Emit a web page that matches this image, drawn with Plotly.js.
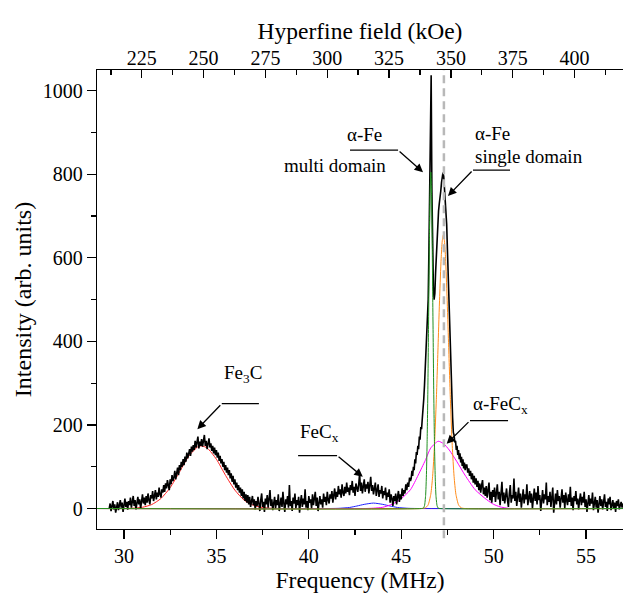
<!DOCTYPE html>
<html><head><meta charset="utf-8">
<script src="https://cdn.plot.ly/plotly-3.0.1.min.js"></script>
<style>html,body{margin:0;padding:0;background:#fff;overflow:hidden}#chart{width:623px;height:595px}</style>
</head><body><div id="chart"></div>
<script>
// ---- measured spectrum (Intensity, arb. units), three uniformly sampled segments ----
const segA_start = 29.2, segA_step = 0.05;
const segA = [
 0, 12, -6, 8, 18, -2, 10, -10, 6, 15,
 -4, 9, 20, 2, 14, -8, 11, 24, 4, 16,
 -3, 18, 8, 26, 2, 14, 30, 6, 20, -2,
 15, 28, 10, 22, 0, 18, 34, 12, 26, 8,
 30, 14, 36, 20, 10, 32, 24, 42, 18, 30,
 44, 22, 38, 28, 50, 34, 26, 46, 38, 56,
 40, 60, 48, 68, 52, 44, 70, 58, 80, 66,
 74, 90, 70, 86, 98, 80, 104, 92, 112, 100,
 118, 104, 124, 112, 134, 120, 128, 142, 126, 148,
 136, 152, 140, 162, 146, 156, 172, 144, 160, 150,
 166, 148, 158, 176, 150, 162, 142, 158, 168, 146,
 156, 138, 150, 132, 146, 128, 140, 122, 134, 114,
 126, 108, 118, 100, 112, 92, 104, 86, 98, 80,
 92, 72, 84, 64, 78, 58, 70, 50, 62, 44,
 56, 38, 50, 30, 46, 24, 40, 18, 34, 14,
 32, 10, 28, 4, 24, 30, 8, 22, -2, 18,
 6, 28, 12, -6, 20, 36, 4, 16, -8, 24,
 10, 32, 2, 18, 44, 6, 22, -4, 14, 28,
 0, 20, 8, 34, -6, 16, 26, 4, 40, 12,
 -8, 22, 10, 30, 2, 56, 6, 18, -6, 26,
 12, 36, 0, 20, 8, 28, -10, 16, 32, 4,
 24, 10, 46, 2, 18, -4, 30, 14, 22, 0,
 34, 8, 20, 40, 6, 26, -6, 18, 30, 10,
 22, 2, 36, 16, 28, 8, 40, 20, 12, 34,
 24, 42, 14, 32, 48, 22, 40, 28, 54, 34,
 46, 26, 58, 38, 30, 52, 36, 62, 40, 50,
 32, 56, 44, 66, 38, 52, 30, 60, 46, 40,
 58, 84, 42, 62, 36, 54, 70, 40, 58, 48,
 64, 36, 52, 76, 42, 56, 34, 50, 62, 30,
 46, 58, 28, 44, 36, 54, 24, 42, 32, 50,
 20, 38, 28, 46, 14, 34, 24, 6, 30, 18,
 36, 10, 28, 42, 16, 34, 22, 48, 30, 44,
 36, 58, 44, 62, 52, 74, 66
];
const segB_start = 45.54, segB_step = 0.04;
const segB = [
 72, 90, 78, 100, 92, 118, 108, 135, 128, 150,
 142, 172, 165, 195, 190, 215, 232, 262, 295, 330,
 370, 410, 430, 500, 620, 760, 890, 1037, 760, 600,
 530, 500, 515, 565, 610, 650, 690, 712, 730, 742,
 760, 780, 798, 804, 795, 770, 740, 710, 680, 620,
 560, 480, 420, 355, 300, 252, 218, 182, 176, 158,
 162, 140, 150, 128, 140, 118, 132, 110, 124, 102,
 118, 96, 110, 92, 104
];
const segC_start = 48.55, segC_step = 0.05;
const segC = [
 104, 86, 96, 78, 90, 70, 84, 62, 78, 58,
 72, 52, 66, 44, 60, 38, 56, 68, 34, 50,
 30, 54, 26, 46, 62, 20, 40, 14, 44, 28,
 50, 16, 36, 58, 22, 40, 8, 34, 64, 18,
 38, 12, 30, 48, 20, 4, 36, 56, 14, 32,
 24, 72, 18, 40, 6, 30, 50, 16, 36, 2,
 28, 46, 12, 34, 22, 58, 8, 30, 42, 14,
 36, 0, 26, 48, 18, 38, 10, 54, 20, 32,
 -6, 28, 44, 12, 34, 22, 62, 8, 30, 16,
 40, 4, 26, 50, -10, 20, 36, 10, 44, 18,
 30, 2, 24, 46, 14, 32, 0, 38, 20, 8,
 34, 16, 52, 6, 26, -4, 30, 18, 42, 10,
 24, -2, 20, 36, 8, 28, 14, 40, 4, 22,
 -8, 18, 32, 6, 24, 12, 38, -4, 16, 28,
 2, 20, -10, 14, 30, 6, 22, -2, 18, 34,
 4, 16, -6, 24, 10, 28, -4, 12, 20, 0,
 14, -8, 18, 6, 22, -2, 10, 16, 2, 12
];

// ---- fitted components ----
const fe3cFreq = [28.5, 29.5, 30.0, 30.5, 31.0, 31.5, 32.0, 32.5, 33.0, 33.5, 34.0, 34.2, 34.5, 35.0, 35.5, 36.0, 36.5, 37.0, 37.5, 38.0, 38.5, 39.5, 57.0];
const fe3cVal  = [0, 0, 0.2, 0.9, 3, 9.5, 24, 50, 87, 125, 148, 150, 145, 118, 79, 44, 20, 7.7, 2.4, 0.6, 0, 0, 0];
const fecxFreq = [28.5, 41.0, 41.6, 42.2, 42.6, 43.0, 43.5, 44.0, 44.4, 44.8, 45.4, 46.0, 57.0];
const fecxVal  = [0, 0, 0.5, 2.5, 6, 10, 13, 10, 6, 2.5, 0.5, 0, 0];
const afecxFreq = [28.5, 43.0, 43.5, 44.0, 44.5, 44.93, 45.5, 45.92, 46.3, 46.6, 47.0, 47.3, 47.6, 48.0, 48.45, 49.0, 49.63, 50.0, 50.35, 50.8, 51.2, 57.0];
const afecxVal  = [0, 0, 0.8, 3, 10, 21, 45, 80, 115, 145, 161, 155, 140, 113, 80, 45, 21, 10, 4, 0.5, 0, 0];
const singleFreq = [28.5, 46.1, 46.3, 46.45, 46.6, 46.7, 46.8, 46.9, 47.0, 47.08, 47.16, 47.22, 47.28, 47.34, 47.4, 47.48, 47.56, 47.66, 47.76, 47.86, 47.96, 48.11, 48.26, 48.45, 57.0];
const singleVal  = [0, 0, 1.4, 8, 34, 77, 151, 261, 397, 507, 598, 640, 655, 640, 598, 507, 397, 261, 151, 77, 34, 8, 1.4, 0, 0];
const multiFreq = [28.5, 46.1, 46.2, 46.26, 46.32, 46.36, 46.40, 46.44, 46.48, 46.52, 46.56, 46.60, 46.64, 46.68, 46.72, 46.76, 46.80, 46.84, 46.88, 46.94, 47.0, 47.1, 57.0];
const multiVal  = [0, 0, 1, 6.8, 31, 75, 155, 279, 444, 618, 754, 805, 754, 618, 444, 279, 155, 75, 31, 6.8, 1, 0, 0];

const hyperfineTicks = [225, 250, 275, 300, 325, 350, 375, 400];
const referenceLine = 47.31;

function grid(start, step, n){ const out=[]; for(let i=0;i<n;i++) out.push(+(start+i*step).toFixed(3)); return out; }
const specX = [].concat(grid(segA_start,segA_step,segA.length), grid(segB_start,segB_step,segB.length), grid(segC_start,segC_step,segC.length));
const specY = [].concat(segA, segB, segC);

const FONT = 'Liberation Serif, Times New Roman, serif';
const comp = (x,y,c)=>({x:x,y:y,type:'scatter',mode:'lines',line:{color:c,width:1,shape:'spline',smoothing:0.6},hoverinfo:'skip',showlegend:false});

const traces = [
  comp(fe3cFreq,fe3cVal,'#ff2020'),
  comp(fecxFreq,fecxVal,'#2020ff'),
  comp(afecxFreq,afecxVal,'#ff00ff'),
  {x:specX,y:specY,type:'scatter',mode:'lines',line:{color:'#000',width:1.6},hoverinfo:'skip',showlegend:false},
  comp(singleFreq,singleVal,'#ff8c1a'),
  comp(multiFreq,multiVal,'#1f8f1f'),
  {x:[hyperfineTicks[0],hyperfineTicks[hyperfineTicks.length-1]],y:[-2000,-2000],xaxis:'x2',type:'scatter',mode:'markers',marker:{opacity:0},hoverinfo:'skip',showlegend:false}
];

const ax = {showgrid:false,zeroline:false,showline:true,linecolor:'#000',linewidth:1.3,tickcolor:'#000',tickwidth:1.3,tickfont:{family:FONT,size:20,color:'#000'}};

const txt = (t,x,y,xa)=>({text:t,x:x,y:y,xref:'x',yref:'y',xanchor:xa,yanchor:'middle',showarrow:false,font:{family:FONT,size:19,color:'#000'}});
const arr = (hx,hy,tx,ty)=>({text:'',x:hx,y:hy,ax:tx,ay:ty,xref:'x',yref:'y',axref:'x',ayref:'y',showarrow:true,arrowhead:2,arrowsize:1.3,arrowwidth:1.3,arrowcolor:'#000',standoff:0,startstandoff:0});
const hl = (x0,x1,y)=>({type:'line',xref:'x',yref:'y',x0:x0,x1:x1,y0:y,y1:y,line:{color:'#000',width:1.3}});

const layout = {
  width:623,height:595,
  margin:{l:97,r:0,t:70,b:65.5},
  paper_bgcolor:'#fff',plot_bgcolor:'#fff',
  showlegend:false,
  font:{family:FONT,size:20,color:'#000'},
  xaxis:Object.assign({},ax,{range:[28.54,57.0],ticks:'outside',ticklen:9,dtick:5,tick0:0,
    minor:{dtick:2.5,ticks:'outside',ticklen:5,tickwidth:1.3,tickcolor:'#000',showgrid:false},
    title:{text:'Frequency (MHz)',font:{family:FONT,size:23.5,color:'#000'},standoff:3}}),
  xaxis2:Object.assign({},ax,{overlaying:'x',side:'top',anchor:'y',range:[206.9,419.6],ticks:'inside',ticklen:8,dtick:25,tick0:0,
    ticklabelstandoff:-4,
    minor:{dtick:12.5,ticks:'inside',ticklen:5,tickwidth:1.3,tickcolor:'#000',showgrid:false},
    title:{text:'Hyperfine field (kOe)',font:{family:FONT,size:23.5,color:'#000'},standoff:0}}),
  yaxis:Object.assign({},ax,{range:[-49,1049.5],ticks:'outside',ticklen:9,dtick:200,tick0:0,
    minor:{dtick:100,ticks:'outside',ticklen:5,tickwidth:1.3,tickcolor:'#000',showgrid:false},
    title:{text:'Intensity (arb. units)',font:{family:FONT,size:24,color:'#000'},standoff:4}}),
  shapes:[
    {type:'line',xref:'x',yref:'paper',x0:referenceLine,x1:referenceLine,y0:-0.02,y1:1,layer:'above',line:{color:'#b8b8b8',width:2.5,dash:'8px,5px'}},
    hl(42.23,44.83,857.8),
    hl(48.885,50.887,810),
    hl(48.72,50.78,210.3),
    hl(35.29,37.30,250.9),
    hl(39.42,41.53,126.6)
  ],
  annotations:[
    txt('α-Fe',44.07,896,'right'),
    txt('multi domain',44.29,820,'right'),
    arr(46.18,805,44.83,857.8),
    txt('α-Fe',48.885,898,'left'),
    txt('single domain',48.885,843.5,'left'),
    arr(47.53,748,48.885,810),
    txt('α-FeC<sub>x</sub>',48.78,248,'left'),
    arr(47.46,155,48.72,210.3),
    txt('Fe<sub>3</sub>C',35.29,322,'left'),
    arr(33.97,190,35.29,250.9),
    txt('FeC<sub>x</sub>',39.42,181,'left'),
    arr(42.92,76,41.53,126.6)
  ]
};

Plotly.newPlot('chart',traces,layout,{staticPlot:true,displayModeBar:false});
</script>
</body></html>
